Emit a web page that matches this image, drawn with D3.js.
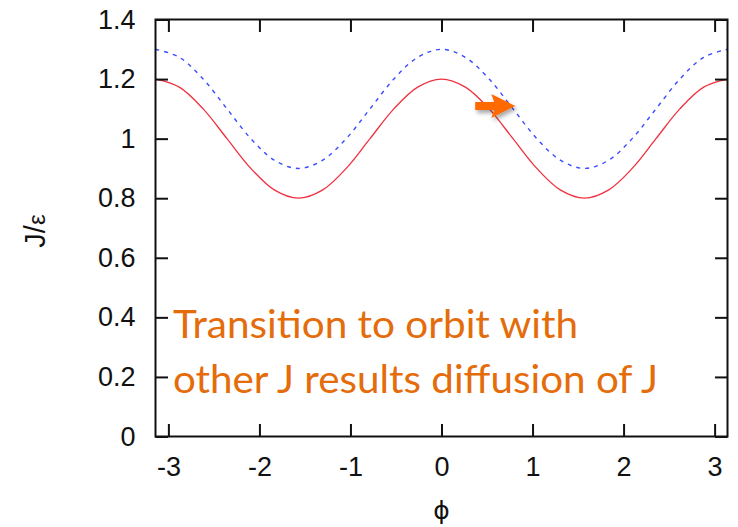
<!DOCTYPE html>
<html>
<head>
<meta charset="utf-8">
<script src="https://cdn.jsdelivr.net/npm/d3@7"></script>
<style>
  html, body { margin: 0; padding: 0; background: #fff; }
  svg { display: block; }
</style>
</head>
<body>
<svg id="chart" width="738" height="527"></svg>
<script>
// Phase angle samples (radians) and the two J/ε orbits
const phi = [-3.1416, -2.8798, -2.6180, -2.3562, -2.0944, -1.8326, -1.5708, -1.3090,
             -1.0472, -0.7854, -0.5236, -0.2618, 0, 0.2618, 0.5236, 0.7854, 1.0472,
             1.3090, 1.5708, 1.8326, 2.0944, 2.3562, 2.6180, 2.8798, 3.1416];
const orbitLow  = [1.20, 1.173, 1.10, 1.00, 0.90, 0.827, 0.80, 0.827, 0.90, 1.00, 1.10, 1.173, 1.20,
                   1.173, 1.10, 1.00, 0.90, 0.827, 0.80, 0.827, 0.90, 1.00, 1.10, 1.173, 1.20];
const orbitHigh = [1.30, 1.273, 1.20, 1.10, 1.00, 0.927, 0.90, 0.927, 1.00, 1.10, 1.20, 1.273, 1.30,
                   1.273, 1.20, 1.10, 1.00, 0.927, 0.90, 0.927, 1.00, 1.10, 1.20, 1.273, 1.30];
const xTicks = [-3, -2, -1, 0, 1, 2, 3];
const yTicks = [0, 0.2, 0.4, 0.6, 0.8, 1, 1.2, 1.4];
// Arrow marking the jump between orbits: [phi, J] of tail and tip
const arrowTail = [0.37, 1.11];
const arrowTip  = [0.81, 1.11];
const noteLines = ["Transition to orbit with", "other J results diffusion of J"];

const svg = d3.select("#chart");
const m = { left: 155.5, right: 727.5, top: 19.5, bottom: 436.5 };

const x = d3.scaleLinear().domain([-Math.PI, Math.PI]).range([m.left, m.right]);
const y = d3.scaleLinear().domain([0, 1.4]).range([m.bottom, m.top]);

const tickLen = 12.5;
const axisFont = "'Liberation Sans', Arial, Helvetica, sans-serif";

// curves
const line = d3.line().x(d => x(d[0])).y(d => y(d[1])).curve(d3.curveCatmullRom.alpha(0.5));

svg.append("path")
  .datum(phi.map((p, i) => [p, orbitHigh[i]]))
  .attr("d", line)
  .attr("fill", "none")
  .attr("stroke", "#3a4cff")
  .attr("stroke-width", 1.4)
  .attr("stroke-dasharray", "4,5");

svg.append("path")
  .datum(phi.map((p, i) => [p, orbitLow[i]]))
  .attr("d", line)
  .attr("fill", "none")
  .attr("stroke", "#f03040")
  .attr("stroke-width", 1.3);

// axes with inward ticks on all four sides
const plain = d => String(+d.toFixed(1)).replace("\u2212", "-");
const gBottom = svg.append("g").attr("transform", `translate(0,${m.bottom})`)
  .call(d3.axisBottom(x).tickValues(xTicks).tickSizeInner(-tickLen).tickSizeOuter(0).tickPadding(20).tickFormat(plain));
const gTop = svg.append("g").attr("transform", `translate(0,${m.top})`)
  .call(d3.axisTop(x).tickValues(xTicks).tickSizeInner(-tickLen).tickSizeOuter(0).tickFormat(""));
const gLeft = svg.append("g").attr("transform", `translate(${m.left},0)`)
  .call(d3.axisLeft(y).tickValues(yTicks).tickSizeInner(-tickLen).tickSizeOuter(0).tickPadding(20).tickFormat(plain));
const gRight = svg.append("g").attr("transform", `translate(${m.right},0)`)
  .call(d3.axisRight(y).tickValues(yTicks).tickSizeInner(-tickLen).tickSizeOuter(0).tickFormat(""));

[gBottom, gTop, gLeft, gRight].forEach(g => {
  g.attr("font-size", null).attr("font-family", null);
  g.select(".domain").remove();
  g.selectAll(".tick line").attr("stroke", "#111").attr("stroke-width", 2);
  g.selectAll("text").attr("fill", "#111")
    .attr("font-family", axisFont).attr("font-size", 27);
});

// frame
svg.append("rect")
  .attr("x", m.left).attr("y", m.top)
  .attr("width", m.right - m.left).attr("height", m.bottom - m.top)
  .attr("fill", "none").attr("stroke", "#111").attr("stroke-width", 2);

// axis titles
svg.append("text")
  .attr("x", x(0)).attr("y", 519)
  .attr("text-anchor", "middle")
  .attr("font-family", "'DejaVu Sans', " + axisFont).attr("font-size", 25).attr("fill", "#111")
  .text("\u03D5");

const yt = svg.append("text")
  .attr("transform", `translate(45,${(m.top + m.bottom) / 2 + 3}) rotate(-90)`)
  .attr("text-anchor", "middle")
  .attr("font-family", axisFont).attr("font-size", 29).attr("fill", "#111");
yt.append("tspan").text("J/");
yt.append("tspan").attr("font-size", 24).text("ε");

// arrow with soft shadow
const defs = svg.append("defs");
const f = defs.append("filter").attr("id", "shadow").attr("x", "-30%").attr("y", "-50%").attr("width", "160%").attr("height", "200%");
f.append("feDropShadow").attr("dx", 2).attr("dy", 3).attr("stdDeviation", 2).attr("flood-color", "#000").attr("flood-opacity", 0.35);

const ax0 = x(arrowTail[0]), ax1 = x(arrowTip[0]), ay = y(arrowTip[1]);
const headLen = 21, headHalf = 12, shaft = 4;
svg.append("path")
  .attr("d", `M${ax0},${ay - shaft} L${ax1 - headLen},${ay - shaft} L${ax1 - headLen - 3},${ay - headHalf}
              L${ax1},${ay} L${ax1 - headLen - 3},${ay + headHalf} L${ax1 - headLen},${ay + shaft} L${ax0},${ay + shaft} Z`)
  .attr("fill", "#ff6a00")
  .attr("filter", "url(#shadow)");

// annotation text
const noteFont = "Lato, 'Open Sans', sans-serif";
const noteWidths = [405, 485];
noteLines.forEach((t, i) => {
  svg.append("text")
    .attr("x", 173).attr("y", 338 + i * 55)
    .attr("font-family", noteFont).attr("font-size", 38)
    .attr("fill", "#e46c0a")
    .attr("textLength", noteWidths[i]).attr("lengthAdjust", "spacingAndGlyphs")
    .text(t);
});
</script>
</body>
</html>
